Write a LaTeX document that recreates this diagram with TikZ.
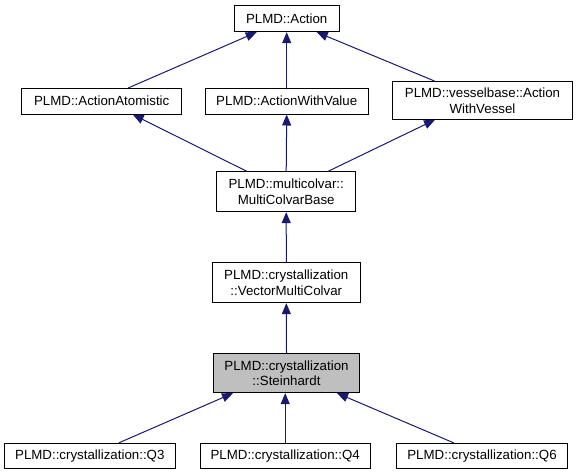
\documentclass[tikz,border=0pt]{standalone}
\usepackage{fontspec}
\setmainfont{Liberation Sans}
\usetikzlibrary{arrows.meta}
\definecolor{edgecol}{HTML}{191970}
\definecolor{hilite}{HTML}{BFBFBF}
\tikzset{
  cls/.style={draw=black, line width=0.9pt, fill=white, inner sep=0pt, align=center,
    font=\fontsize{13.3}{15.5}\selectfont, text=black},
  edge/.style={draw=edgecol, line width=1pt, -{Triangle[length=11pt,width=9pt]}}
}
\begin{document}
\begin{tikzpicture}[x=1pt,y=-1pt]
\useasboundingbox (0,0) rectangle (577,475);
\node[cls, minimum width=104.7pt, minimum height=26pt] (action) at (286.7,18.7) {PLMD::Action};
\node[cls, minimum width=160pt, minimum height=25.7pt] (aa) at (101.7,101.2) {PLMD::ActionAtomistic};
\node[cls, minimum width=163.3pt, minimum height=25.7pt] (awv) at (286.7,101.2) {PLMD::ActionWithValue};
\node[cls, minimum width=180.4pt, minimum height=37.6pt] (vb) at (482.5,100.5) {PLMD::vesselbase::Action\\WithVessel};
\node[cls, minimum width=139pt, minimum height=40pt] (mcb) at (286.2,191.7) {PLMD::multicolvar::\\MultiColvarBase};
\node[cls, minimum width=147.3pt, minimum height=40pt] (vmc) at (286.3,282.7) {PLMD::crystallization\\::VectorMultiColvar};
\node[cls, fill=hilite, minimum width=146.4pt, minimum height=39.4pt] (st) at (286.5,373) {PLMD::crystallization\\::Steinhardt};
\node[cls, minimum width=171.7pt, minimum height=25pt] (q3) at (89.8,455.8) {PLMD::crystallization::Q3};
\node[cls, minimum width=170.3pt, minimum height=25pt] (q4) at (285.2,455.8) {PLMD::crystallization::Q4};
\node[cls, minimum width=171.4pt, minimum height=25pt] (q6) at (482,455.8) {PLMD::crystallization::Q6};

\draw[edge] ([xshift=26.6pt]aa.north) -- ([xshift=-30pt]action.south);
\draw[edge] (awv.north) -- (action.south);
\draw[edge] ([xshift=-47.5pt]vb.north) -- ([xshift=30pt]action.south);
\draw[edge] ([xshift=-39.5pt]mcb.north) -- ([xshift=31pt]aa.south);
\draw[edge] (mcb.north) -- (awv.south);
\draw[edge] ([xshift=42pt]mcb.north) -- ([xshift=-47.5pt]vb.south);
\draw[edge] (vmc.north) -- (mcb.north |- mcb.south);
\draw[edge] (st.north) -- (vmc.south);
\draw[edge] ([xshift=29pt]q3.north) -- ([xshift=-53.5pt]st.south);
\draw[edge] (q4.north) -- (q4.north |- st.south);
\draw[edge] ([xshift=-28.3pt]q6.north) -- ([xshift=50.5pt]st.south);
\end{tikzpicture}
\end{document}
